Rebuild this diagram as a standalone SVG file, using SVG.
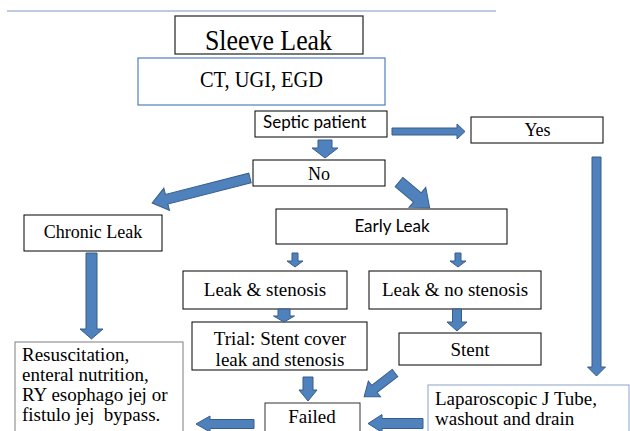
<svg xmlns="http://www.w3.org/2000/svg" width="630" height="431" viewBox="0 0 630 431">
<style>
.box{fill:#fff;stroke:#000;stroke-width:1}
.arr{fill:#4f81bd;stroke:#385d8a;stroke-width:1}
.c{text-anchor:middle}
</style>
<rect width="630" height="431" fill="#fff"/>
<line x1="7" y1="11" x2="496" y2="11" stroke="#a7b9d6" stroke-width="1.5"/>
<g font-family="'Liberation Serif', 'Times New Roman', Times, serif" fill="#000">
<g id="sleeve"><rect class="box" x="175" y="16" width="188" height="38" style="stroke:#333;stroke-width:1.3"/><text x="205" y="50" font-size="29" textLength="127" lengthAdjust="spacingAndGlyphs">Sleeve Leak</text></g>
<g id="ct"><rect class="box" x="138" y="58" width="247" height="47" style="stroke:#4f7fbf;stroke-width:1.2"/><text x="200" y="87" font-size="23" textLength="123" lengthAdjust="spacingAndGlyphs">CT, UGI, EGD</text></g>
<g id="septic"><rect class="box" x="255" y="111" width="132" height="26"/><text font-family="Lato, 'Liberation Sans', sans-serif" x="263" y="128" font-size="17">Septic patient</text></g>
<g id="yes"><rect class="box" x="471" y="117" width="132" height="26"/><text class="c" x="537.5" y="136" font-size="18">Yes</text></g>
<g id="no"><rect class="box" x="253" y="160" width="132" height="26"/><text class="c" x="319" y="180" font-size="18">No</text></g>
<g id="chronic"><rect class="box" x="24" y="215" width="138" height="36"/><text class="c" x="93" y="238" font-size="18">Chronic Leak</text></g>
<g id="early"><rect class="box" x="276" y="209" width="231" height="35"/><text font-family="Lato, 'Liberation Sans', sans-serif" class="c" x="392" y="232" font-size="17">Early Leak</text></g>
<g id="leakstenosis"><rect class="box" x="183" y="271" width="164" height="38"/><text class="c" x="265" y="296" font-size="19">Leak &amp; stenosis</text></g>
<g id="leaknostenosis"><rect class="box" x="369" y="271" width="172" height="38"/><text class="c" x="455" y="296" font-size="19">Leak &amp; no stenosis</text></g>
<g id="trial"><rect class="box" x="192" y="322" width="175" height="48"/><text class="c" x="280" y="345" font-size="19">Trial: Stent cover</text><text class="c" x="280" y="366" font-size="19">leak and stenosis</text></g>
<g id="stent"><rect class="box" x="399" y="333" width="142" height="32"/><text class="c" x="470" y="356" font-size="19">Stent</text></g>
<g id="resus"><rect class="box" x="15" y="342" width="168" height="100" style="stroke:#7f7f7f"/><text x="22" y="361" font-size="19">Resuscitation,</text><text x="22" y="381" font-size="19">enteral nutrition,</text><text x="22" y="401" font-size="19">RY esophago jej or</text><text x="22" y="421" font-size="19" xml:space="preserve">fistulo jej  bypass.</text></g>
<g id="failed"><rect class="box" x="265" y="403" width="95" height="40" style="stroke:#333"/><text class="c" x="312" y="423" font-size="19">Failed</text></g>
<g id="lap"><rect class="box" x="428" y="385" width="201" height="55" style="stroke:#8aa2cc"/><text x="435" y="405" font-size="19">Laparoscopic J Tube,</text><text x="435" y="425" font-size="19">washout and drain</text></g>
</g>
<g id="connectors">
<polygon class="arr" points="392,128 457,128 457,124 465,131.5 457,139 457,135 392,135"/>
<polygon class="arr" points="318,140 332,140 332,148 338,148 325,158 312,148 318,148"/>
<polygon class="arr" transform="translate(399,182) rotate(40)" points="0,-6 24,-6 24,-13 40,0 24,13 24,6 0,6"/>
<polygon class="arr" transform="translate(250,178) rotate(165.7)" points="0,-5 86,-5 86,-11.5 101,0 86,11.5 86,5 0,5"/>
<polygon class="arr" points="592,157 601,157 601,367 605.5,367 596.5,376 587.5,367 592,367"/>
<polygon class="arr" points="86,253 97,253 97,329 103,329 91.5,339 80,329 86,329"/>
<polygon class="arr" points="292,253 298,253 298,261 303,261 295,267 287,261 292,261"/>
<polygon class="arr" points="455,253 461,253 461,261 466,261 458,267 450,261 455,261"/>
<polygon class="arr" points="278,309 290,309 290,316 294.5,316 284,322 273.5,316 278,316"/>
<polygon class="arr" points="452.5,309 461.5,309 461.5,322 467,322 457,331 447,322 452.5,322"/>
<polygon class="arr" points="303,377 313,377 313,390 317,390 308,401 299,390 303,390"/>
<polygon class="arr" transform="translate(395,373) rotate(142.3)" points="0,-4.5 26,-4.5 26,-10 39,0 26,10 26,4.5 0,4.5"/>
<polygon class="arr" points="423,418.5 382,418.5 382,414.5 368,423.5 382,432.5 382,428.5 423,428.5"/>
<polygon class="arr" points="254,419.5 210,419.5 210,416 196,424 210,432 210,428.5 254,428.5"/>
</g>
</svg>
